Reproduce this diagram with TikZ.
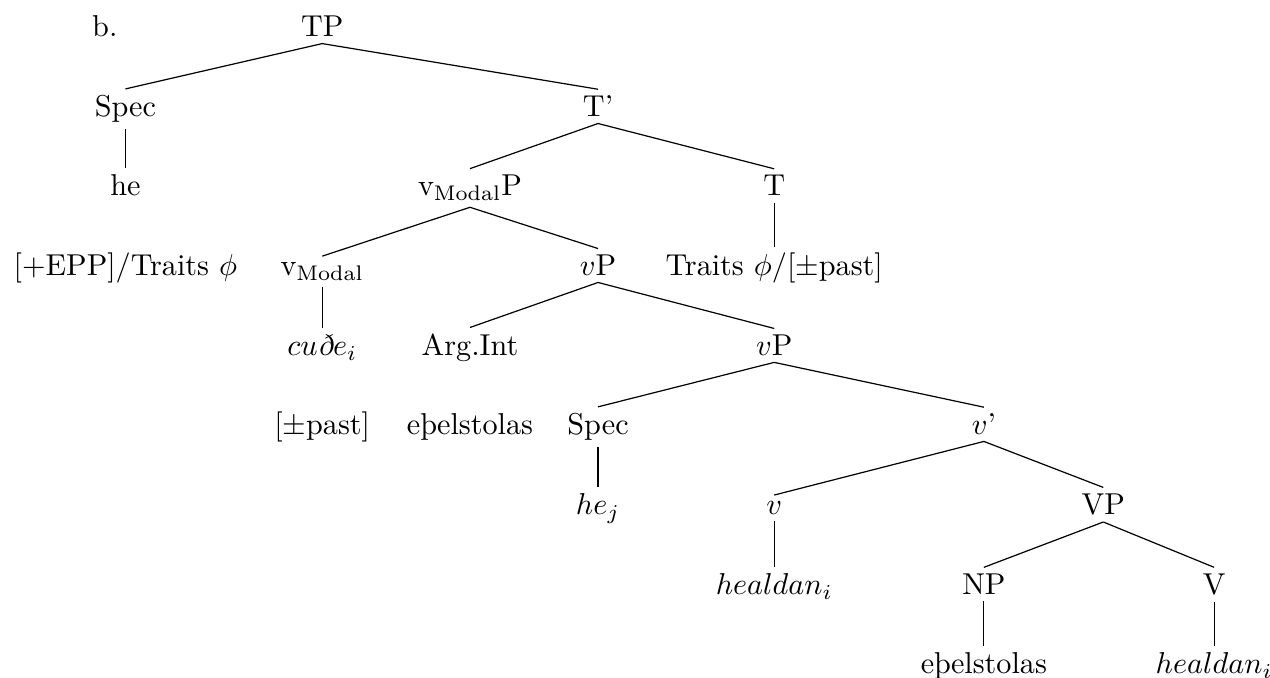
\documentclass[tikz,border=0pt]{standalone}
\usepackage{fontspec}
\usetikzlibrary{positioning}

\begin{document}
\begin{tikzpicture}[
            cat/.style={anchor=base, inner sep=2pt, font=\normalsize},
            branch/.style={thin, color=black}
        ]
            \useasboundingbox (0,0) rectangle (14.78,7.88);

            % Top of the tree
            \node[cat] (ex) at (1.22,7.45) {b.};
            \node[cat] (tp) at (3.75,7.45) {TP};
            \node[cat] (spec) at (1.46,6.52) {Spec};
            \node[cat] (tbar) at (6.96,6.52) {T'};
            \node[cat] (he) at (1.46,5.60) {he};
            \node[cat] (modp) at (5.47,5.60) {v$_{\mathrm{Modal}}$P};
            \node[cat] (t) at (9.01,5.60) {T};

            % Modal layer
            \node[cat] (epp) at (1.46,4.67) {[+EPP]/Traits $\phi$};
            \node[cat] (mod) at (3.75,4.67) {v$_{\mathrm{Modal}}$};
            \node[cat] (vp) at (6.96,4.67) {$v$P};
            \node[cat] (ttraits) at (9.01,4.67) {Traits $\phi$/[$\pm$past]};
            \node[cat] (cude) at (3.75,3.74) {$cu\textit{ð}e_i$};
            \node[cat] (argint) at (5.47,3.74) {Arg.Int};
            \node[cat] (vpp) at (9.01,3.74) {$v$P};
            \node[cat] (past) at (3.75,2.82) {[$\pm$past]};
            \node[cat] (obj) at (5.47,2.82) {eþelstolas};

            % Lower vP
            \node[cat] (specv) at (6.96,2.82) {Spec};
            \node[cat] (vbar) at (11.45,2.82) {$v$'};
            \node[cat] (hej) at (6.96,1.89) {$he_j$};
            \node[cat] (v) at (9.01,1.89) {$v$};
            \node[cat] (bigvp) at (12.84,1.89) {VP};
            \node[cat] (heal) at (9.01,0.96) {$healdan_i$};
            \node[cat] (np) at (11.45,0.96) {NP};
            \node[cat] (verb) at (14.13,0.96) {V};
            \node[cat] (npword) at (11.45,0.04) {eþelstolas};
            \node[cat] (vword) at (14.13,0.04) {$healdan_i$};

            % Branches
            \draw[branch] (tp.south) -- (spec.north);
            \draw[branch] (tp.south) -- (tbar.north);
            \draw[branch] (spec.south) -- (he.north);
            \draw[branch] (tbar.south) -- (modp.north);
            \draw[branch] (tbar.south) -- (t.north);
            \draw[branch] (t.south) -- (ttraits.north);
            \draw[branch] (modp.south) -- (mod.north);
            \draw[branch] (modp.south) -- (vp.north);
            \draw[branch] (mod.south) -- (cude.north);
            \draw[branch] (vp.south) -- (argint.north);
            \draw[branch] (vp.south) -- (vpp.north);
            \draw[branch] (vpp.south) -- (specv.north);
            \draw[branch] (vpp.south) -- (vbar.north);
            \draw[branch] (specv.south) -- (hej.north);
            \draw[branch] (vbar.south) -- (v.north);
            \draw[branch] (vbar.south) -- (bigvp.north);
            \draw[branch] (v.south) -- (heal.north);
            \draw[branch] (bigvp.south) -- (np.north);
            \draw[branch] (bigvp.south) -- (verb.north);
            \draw[branch] (np.south) -- (npword.north);
            \draw[branch] (verb.south) -- (vword.north);
        \end{tikzpicture}
\end{document}
